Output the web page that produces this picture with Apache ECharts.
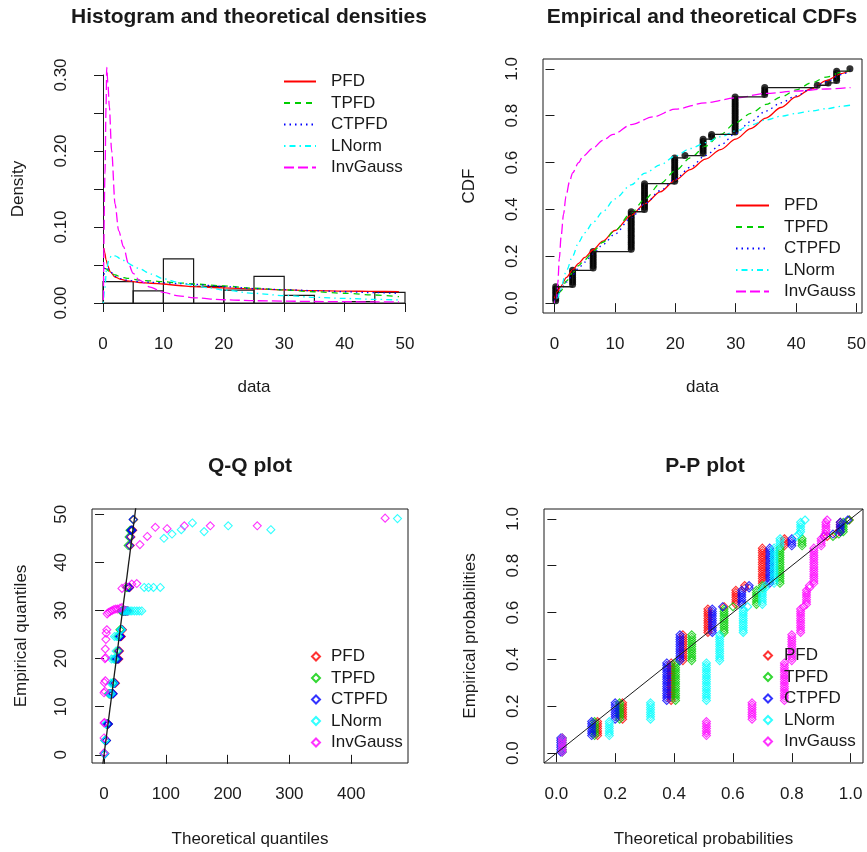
<!DOCTYPE html>
<html>
<head>
<meta charset="utf-8">
<title>Goodness-of-fit plots</title>
<script src="https://cdn.jsdelivr.net/npm/echarts@6/dist/echarts.min.js"></script>
<style>
  html, body { margin: 0; padding: 0; background: #fff; }
  #chart { width: 867px; height: 852px; }
</style>
</head>
<body>
<div id="chart"></div>
<script>
// ---------- values ----------
const distNames = ['PFD', 'TPFD', 'CTPFD', 'LNorm', 'InvGauss'];
const distColors = ['#ff0000', '#00cd00', '#0000ff', '#00ffff', '#ff00ff'];
const distDash = ['solid', [6, 5], [1.5, 4], [1.5, 4, 6, 4], [10, 4]];

// observed sample: distinct values and how often each occurs (n = 100)
const obsValues = [0.2, 3.0, 6.4, 12.7, 14.9, 19.9, 21.6, 24.6, 26.0, 29.9, 34.8, 43.5, 45.3, 46.7, 48.9];
const obsCounts = [7, 7, 8, 17, 12, 11, 1, 7, 2, 16, 4, 1, 1, 5, 1];

// histogram (breaks every 5) and density of each bin
const histBreaks = [0, 5, 10, 15, 20, 25, 30, 35, 40, 45, 50];
const histDensity = [0.028, 0.016, 0.058, 0.022, 0.017, 0.035, 0.010, 0.000, 0.002, 0.014];

// fitted densities [x, density]
const densPFD = [[0.15,0.072],[0.3,0.066],[0.5,0.057],[0.8,0.049],[1.2,0.041],[2,0.034],[3,0.031],[4,0.029],[6,0.027],[8,0.026],[10,0.025],[12.5,0.023],[15,0.0215],[20,0.02],[25,0.0185],[30,0.0172],[35,0.0162],[40,0.0157],[45,0.0152],[49,0.0149]];
const densTPFD = [[0.15,0.046],[0.5,0.045],[1,0.042],[2,0.037],[3,0.034],[4,0.0325],[6,0.030],[8,0.029],[10,0.028],[12.5,0.0265],[15,0.025],[20,0.0224],[25,0.0194],[30,0.0172],[35,0.0148],[40,0.0128],[45,0.0105],[49,0.0083]];
const densCTPFD = [[0.1,0.03],[0.3,0.045],[0.5,0.048],[1,0.044],[2,0.035],[3,0.032],[4,0.030],[6,0.028],[8,0.0272],[10,0.0265],[12.5,0.0255],[15,0.0246],[20,0.0215],[25,0.019],[30,0.0175],[35,0.0162],[40,0.0148],[45,0.0136],[49,0.0127]];
const densLNorm = [[0.05,0],[0.3,0.02],[0.6,0.045],[1,0.058],[1.5,0.063],[2,0.062],[3,0.058],[4,0.053],[5,0.049],[6,0.045],[8,0.038],[10,0.032],[12.5,0.027],[15,0.023],[17.5,0.02],[20,0.017],[25,0.0127],[30,0.0098],[35,0.0075],[40,0.006],[45,0.0048],[49,0.004]];
const densInvGauss = [[0.06,0.004],[0.33,0.17],[0.5,0.258],[0.62,0.31],[0.8,0.29],[1.05,0.258],[1.43,0.2],[2,0.13],[2.6,0.095],[3.4,0.074],[4.2,0.052],[5,0.039],[6,0.03],[7.8,0.021],[10,0.014],[12.5,0.0095],[15,0.0068],[20,0.0043],[25,0.003],[30,0.0025],[35,0.002],[40,0.0017],[45,0.0015],[49,0.0013]];

// fitted CDFs
const cdfX = [0, 0.5, 1, 2, 3, 4, 5, 6.4, 8, 10, 12.7, 15, 17.5, 20, 22.5, 25, 27.5, 30, 32.5, 35, 37.5, 40, 42.5, 45, 47.5, 49];
const cdfPFD = [0.02,0.05,0.07,0.11,0.142,0.17,0.195,0.228,0.265,0.31,0.375,0.425,0.475,0.525,0.57,0.615,0.655,0.70,0.745,0.79,0.835,0.88,0.915,0.95,0.98,0.995];
const cdfTPFD = [0.0,0.03,0.05,0.095,0.13,0.16,0.185,0.22,0.26,0.31,0.385,0.445,0.51,0.565,0.62,0.67,0.72,0.77,0.81,0.848,0.88,0.91,0.94,0.965,0.985,0.995];
const cdfCTPFD = [0.01,0.035,0.055,0.09,0.12,0.15,0.175,0.21,0.25,0.295,0.365,0.425,0.48,0.53,0.58,0.63,0.675,0.725,0.775,0.82,0.855,0.885,0.915,0.945,0.975,0.995];
const cdfLNorm = [0,0.02,0.06,0.14,0.2,0.26,0.3,0.345,0.39,0.445,0.505,0.555,0.59,0.628,0.66,0.685,0.71,0.735,0.76,0.782,0.798,0.81,0.82,0.83,0.84,0.845];
const cdfInvGaussX = [0, 0.3, 0.55, 0.8, 1.1, 1.5, 1.9, 2.5, 3, 4, 4.7, 6.4, 8, 9.7, 12.7, 16.3, 20, 25, 30, 35, 40, 45, 49];
const cdfInvGauss = [0,0.02,0.085,0.19,0.285,0.38,0.456,0.52,0.556,0.6,0.627,0.662,0.695,0.72,0.762,0.795,0.828,0.855,0.876,0.895,0.905,0.914,0.92];

// Q-Q plot: [theoretical quantile, empirical quantile]
const qqPFD = [[0.2,0.2],[0.8,0.2],[1.5,3.0],[2.5,3.0],[3.5,3.0],[4.5,6.4],[5.8,6.4],[7,6.4],[8.5,12.7],[10,12.7],[11.5,12.7],[13,12.7],[14.5,12.7],[15.5,14.9],[17,14.9],[18.5,14.9],[19.5,19.9],[21,19.9],[22.5,19.9],[24,19.9],[25,21.6],[26,24.6],[27,24.6],[28,24.6],[29,26.0],[29.8,26.0],[30.5,29.9],[32,29.9],[33.5,29.9],[35,29.9],[37,29.9],[39,29.9],[40.5,34.8],[41.5,34.8],[42.5,43.5],[43.5,45.3],[44.5,46.7],[45.5,46.7],[46.5,46.7],[48,48.9]];
const qqTPFD = [[0.3,0.2],[1.0,0.2],[1.7,3.0],[2.6,3.0],[3.5,3.0],[4.3,6.4],[5.5,6.4],[6.6,6.4],[7.5,12.7],[9,12.7],[10.5,12.7],[12,12.7],[13.3,12.7],[14,14.9],[15,14.9],[16,14.9],[17,19.9],[18.5,19.9],[19.8,19.9],[21,19.9],[22,21.6],[23,24.6],[24,24.6],[25,24.6],[25.8,26.0],[26.5,26.0],[27.5,29.9],[29,29.9],[30.5,29.9],[32,29.9],[33.5,29.9],[35,29.9],[36.5,34.8],[37.5,34.8],[39,43.5],[40.5,45.3],[42,46.7],[43.5,46.7],[45,46.7],[47.5,48.9]];
const qqCTPFD = [[0.5,0.2],[1.2,0.2],[2.0,3.0],[3.0,3.0],[4.0,3.0],[5.0,6.4],[6.2,6.4],[7.2,6.4],[9,12.7],[10.5,12.7],[12,12.7],[13.5,12.7],[14.8,12.7],[15.5,14.9],[16.5,14.9],[17.5,14.9],[18.5,19.9],[20,19.9],[21.5,19.9],[23,19.9],[24,21.6],[25,24.6],[26,24.6],[27,24.6],[28,26.0],[28.8,26.0],[29.5,29.9],[30.5,29.9],[32,29.9],[34,29.9],[36,29.9],[38,29.9],[39.5,34.8],[41,34.8],[41.5,43.5],[42.5,45.3],[43.5,46.7],[44.5,46.7],[45.5,46.7],[47,48.9]];
const qqLNorm = [[0.3,0.2],[0.8,0.2],[1.3,3.0],[2.0,3.0],[2.5,6.4],[3.3,6.4],[8,12.7],[10,12.7],[12,12.7],[11,14.9],[13,14.9],[16,14.9],[12,19.9],[15,19.9],[18,19.9],[19.5,21.6],[17,24.6],[20,24.6],[23,24.6],[27,26.0],[28.5,26.0],[30,29.9],[33,29.9],[36,29.9],[39,29.9],[42,29.9],[45,29.9],[49,29.9],[53,29.9],[57,29.9],[61,29.9],[65,34.8],[72,34.8],[80,34.8],[91,34.8],[97,45.0],[110,45.9],[125,46.8],[143,48.2],[162,46.4],[201,47.6],[270,46.8],[475,49.1]];
const qqInvGauss = [[0,0.4],[0,3.5],[0,6.6],[1,6.7],[0,12.9],[1.5,13.2],[0.5,15.0],[2,15.4],[1.5,20.0],[2.5,20.2],[2,22.0],[3,24.0],[3.5,25.3],[4.5,26.0],[5,29.3],[7,29.6],[10,29.8],[13,30.0],[16,30.2],[19,30.3],[22,30.3],[26,30.5],[29,30.6],[29,34.6],[35,35.0],[45,35.5],[53,35.6],[58,43.7],[70,45.4],[83,47.3],[102,47.0],[130,47.6],[172,47.6],[248,47.6],[455,49.2]];

// P-P plot: theoretical probability of each distinct observed value
const ppPFD = [0.02, 0.14, 0.225, 0.39, 0.43, 0.515, 0.57, 0.61, 0.64, 0.70, 0.775, 0.92, 0.95, 0.965, 0.995];
const ppTPFD = [0.02, 0.13, 0.215, 0.405, 0.46, 0.57, 0.60, 0.68, 0.70, 0.76, 0.835, 0.94, 0.96, 0.975, 0.995];
const ppCTPFD = [0.015, 0.12, 0.20, 0.375, 0.42, 0.53, 0.565, 0.63, 0.655, 0.725, 0.80, 0.91, 0.94, 0.965, 0.99];
const ppLNorm = [0.02, 0.18, 0.32, 0.51, 0.555, 0.635, 0.65, 0.70, 0.71, 0.74, 0.76, 0.815, 0.825, 0.83, 0.845];
const ppInvGauss = [0.02, 0.51, 0.665, 0.775, 0.80, 0.83, 0.84, 0.85, 0.86, 0.875, 0.90, 0.91, 0.913, 0.916, 0.92];

// axis ticks
const ticks50 = [0, 10, 20, 30, 40, 50];
const ticksProb = [0, 0.2, 0.4, 0.6, 0.8, 1.0];
const ticksQQx = [0, 100, 200, 300, 400];

// ---------- derived tables ----------
const sorted = [];
const clusterOf = [];
obsValues.forEach((v, k) => {
  for (let j = 0; j < obsCounts[k]; j++) { sorted.push(v); clusterOf.push(k); }
});
const n = sorted.length;
const ecdfPts = sorted.map((v, i) => [v, (i + 1) / n]);
const histRows = histDensity.map((d, i) => [histBreaks[i], histBreaks[i + 1], d]);
const dens = [densPFD, densTPFD, densCTPFD, densLNorm, densInvGauss];
const cdfs = [
  cdfX.map((x, i) => [x, cdfPFD[i]]),
  cdfX.map((x, i) => [x, cdfTPFD[i]]),
  cdfX.map((x, i) => [x, cdfCTPFD[i]]),
  cdfX.map((x, i) => [x, cdfLNorm[i]]),
  cdfInvGaussX.map((x, i) => [x, cdfInvGauss[i]])
];
const qqs = [qqPFD, qqTPFD, qqCTPFD, qqLNorm, qqInvGauss];
const pps = [ppPFD, ppTPFD, ppCTPFD, ppLNorm, ppInvGauss].map(p =>
  sorted.map((v, i) => [p[clusterOf[i]], (i + 0.5) / n]));

const cdfLim = [-1.9, 50.9];
const probLim = [-0.042, 1.042];
const qqXLim = [-19.5, 492];
const qqYLim = [-1.7, 51.1];

// ---------- styling helpers ----------
const font = '"Liberation Sans", Arial, sans-serif';
const ink = '#1a1a1a';
const fs = 17;

function boxedAxis(gridIndex, lim, ticks, digits, name, gap, isY) {
  return {
    gridIndex, type: 'value', min: lim[0], max: lim[1],
    splitLine: { show: false },
    axisLine: { show: false },
    axisTick: { show: true, inside: false, length: 9, customValues: ticks, lineStyle: { color: ink } },
    axisLabel: {
      customValues: ticks, margin: isY ? 22 : 23, color: ink, fontSize: fs, fontFamily: font,
      rotate: isY ? 90 : 0, formatter: v => v.toFixed(digits)
    },
    name, nameLocation: 'middle', nameGap: gap,
    nameTextStyle: { color: ink, fontSize: fs, fontFamily: font }
  };
}

function legendFor(tag, left, top, itemWidth, itemHeight, textPad, isLine) {
  return {
    data: distNames.map(d => d + '|' + tag),
    formatter: name => name.split('|')[0],
    orient: 'vertical', left, top, padding: 0,
    itemWidth, itemHeight, itemGap: 4.5,
    selectedMode: false,
    itemStyle: isLine ? { opacity: 0 } : {},
    textStyle: { color: ink, fontSize: fs, fontFamily: font, padding: [0, 0, 0, textPad] }
  };
}

const grids = [
  { left: 103, top: 75, width: 302, height: 228 },
  { left: 543, top: 59, width: 319, height: 254, show: true, borderColor: ink, borderWidth: 1 },
  { left: 92, top: 509, width: 316, height: 254, show: true, borderColor: ink, borderWidth: 1 },
  { left: 544, top: 509, width: 319, height: 254, show: true, borderColor: ink, borderWidth: 1 }
].map(g => Object.assign({ containLabel: false, outerBoundsMode: 'none', backgroundColor: 'transparent' }, g));

const xAxes = [
  {
    gridIndex: 0, type: 'value', min: 0, max: 50, interval: 10, offset: 10,
    splitLine: { show: false },
    axisLine: { show: true, lineStyle: { color: ink, width: 1 } },
    axisTick: { show: true, inside: false, length: 9, lineStyle: { color: ink } },
    axisLabel: { margin: 23, color: ink, fontSize: fs, fontFamily: font },
    name: 'data', nameLocation: 'middle', nameGap: 66,
    nameTextStyle: { color: ink, fontSize: fs, fontFamily: font }
  },
  boxedAxis(1, cdfLim, ticks50, 0, 'data', 66, false),
  boxedAxis(2, qqXLim, ticksQQx, 0, 'Theoretical quantiles', 68, false),
  boxedAxis(3, probLim, ticksProb, 1, 'Theoretical probabilities', 68, false)
];
const yAxes = [
  {
    gridIndex: 0, type: 'value', min: 0, max: 0.30, interval: 0.05, offset: 11,
    splitLine: { show: false },
    axisLine: { show: true, lineStyle: { color: ink, width: 1 } },
    axisTick: { show: true, inside: false, length: 9, lineStyle: { color: ink } },
    axisLabel: {
      margin: 22, color: ink, fontSize: fs, fontFamily: font, rotate: 90,
      formatter: v => (Math.abs(v * 10 - Math.round(v * 10)) < 1e-6 ? v.toFixed(2) : '')
    },
    name: 'Density', nameLocation: 'middle', nameGap: 65,
    nameTextStyle: { color: ink, fontSize: fs, fontFamily: font }
  },
  boxedAxis(1, probLim, ticksProb, 1, 'CDF', 65, true),
  boxedAxis(2, qqYLim, ticks50, 0, 'Empirical quantiles', 62, true),
  boxedAxis(3, probLim, ticksProb, 1, 'Empirical probabilities', 65, true)
];

const series = [];

// panel 1: histogram + fitted densities
series.push({
  type: 'custom', name: 'hist', xAxisIndex: 0, yAxisIndex: 0, silent: true,
  data: histRows, encode: { x: [0, 1], y: 2 },
  renderItem: (params, api) => {
    const a = api.coord([api.value(0), 0]);
    const b = api.coord([api.value(1), api.value(2)]);
    return {
      type: 'rect',
      shape: { x: a[0], y: b[1], width: b[0] - a[0], height: a[1] - b[1] },
      style: { fill: 'none', stroke: ink, lineWidth: 1.2 }
    };
  }
});
distNames.forEach((d, k) => series.push({
  type: 'line', name: d + '|d', xAxisIndex: 0, yAxisIndex: 0,
  data: dens[k], showSymbol: false, symbol: 'none', clip: false,
  smooth: 0.3, smoothMonotone: 'x', color: distColors[k],
  lineStyle: { color: distColors[k], width: 1.3, type: distDash[k] }
}));

// panel 2: fitted CDFs + ECDF
distNames.forEach((d, k) => series.push({
  type: 'line', name: d + '|c', xAxisIndex: 1, yAxisIndex: 1,
  data: cdfs[k], showSymbol: false, symbol: 'none',
  smooth: 0.3, smoothMonotone: 'x', color: distColors[k],
  lineStyle: { color: distColors[k], width: 1.3, type: distDash[k] }
}));
series.push({
  type: 'line', name: 'ecdf', xAxisIndex: 1, yAxisIndex: 1, step: 'end',
  data: [[sorted[0], 0]].concat(ecdfPts), symbol: 'none',
  lineStyle: { color: ink, width: 1.3 }
});
series.push({
  type: 'scatter', name: 'ecdf points', xAxisIndex: 1, yAxisIndex: 1,
  data: ecdfPts, symbol: 'circle', symbolSize: 7, itemStyle: { color: '#000' }
});

// panel 3: Q-Q
distNames.forEach((d, k) => series.push({
  type: 'scatter', name: d + '|q', xAxisIndex: 2, yAxisIndex: 2,
  data: qqs[k], symbol: 'diamond', symbolSize: 8,
  itemStyle: { color: 'transparent', borderColor: distColors[k], borderWidth: 1.1 }
}));
series.push({
  type: 'line', name: 'qq line', xAxisIndex: 2, yAxisIndex: 2, symbol: 'none',
  data: [[qqXLim[0], qqXLim[0]], [qqXLim[1], qqXLim[1]]],
  lineStyle: { color: ink, width: 1.3 }
});

// panel 4: P-P
distNames.forEach((d, k) => series.push({
  type: 'scatter', name: d + '|p', xAxisIndex: 3, yAxisIndex: 3,
  data: pps[k], symbol: 'diamond', symbolSize: 8,
  itemStyle: { color: 'transparent', borderColor: distColors[k], borderWidth: 1.1 }
}));
series.push({
  type: 'line', name: 'pp line', xAxisIndex: 3, yAxisIndex: 3, symbol: 'none',
  data: [[probLim[0], probLim[0]], [probLim[1], probLim[1]]],
  lineStyle: { color: ink, width: 1 }
});

const titleStyle = { color: ink, fontSize: 21, fontWeight: 'bold', fontFamily: font };

const option = {
  animation: false,
  backgroundColor: '#fff',
  title: [
    { text: 'Histogram and theoretical densities', left: 249, top: 7, textAlign: 'center', padding: 0, textStyle: titleStyle },
    { text: 'Empirical and theoretical CDFs', left: 702, top: 7, textAlign: 'center', padding: 0, textStyle: titleStyle },
    { text: 'Q-Q plot', left: 250, top: 456, textAlign: 'center', padding: 0, textStyle: titleStyle },
    { text: 'P-P plot', left: 705, top: 456, textAlign: 'center', padding: 0, textStyle: titleStyle }
  ],
  legend: [
    legendFor('d', 283, 73, 32, 14, 10, true),
    legendFor('c', 735, 197, 33, 14, 10, true),
    legendFor('q', 311, 648, 8, 8, 6, false),
    legendFor('p', 763, 647, 8, 8, 7, false)
  ],
  grid: grids,
  xAxis: xAxes,
  yAxis: yAxes,
  series
};

const chart = echarts.init(document.getElementById('chart'), null, { renderer: 'canvas' });
chart.setOption(option);
</script>
</body>
</html>
